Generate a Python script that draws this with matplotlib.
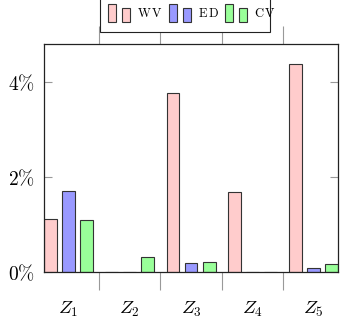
import matplotlib
matplotlib.use("Agg")
import matplotlib.pyplot as plt
from matplotlib.patches import Rectangle
import numpy as np

plt.rcParams["mathtext.fontset"] = "cm"

zones = [r"$Z_1$", r"$Z_2$", r"$Z_3$", r"$Z_4$", r"$Z_5$"]
series = ["W\\,V", "E\\,D", "C\\,V"]
wv = [1.11, 0.0, 3.77, 1.68, 4.38]
ed = [1.70, 0.0, 0.20, 0.0, 0.08]
cv = [1.09, 0.31, 0.22, 0.0, 0.17]
values = [wv, ed, cv]
colors = ["#ffcccc", "#9999ff", "#99ff99"]
edge = "#333333"

W, H = 346, 320
fig = plt.figure(figsize=(W / 100, H / 100), dpi=100)
ax = fig.add_axes([44 / W, 1 - 272 / H, (338 - 44) / W, (272 - 44) / H])

x = np.arange(len(zones))
bw = 0.212
step = 0.294
for i, (vals, col) in enumerate(zip(values, colors)):
    ax.bar(x + (i - 1) * step, vals, width=bw, color=col, edgecolor=edge, linewidth=0.8, zorder=2)

ax.set_xlim(-0.4, 4.4)
ax.set_ylim(0, 4.8)

ax.set_yticks([0, 2, 4])
ax.set_yticklabels([r"$0\%$", r"$2\%$", r"$4\%$"], fontsize=14)
ax.tick_params(axis="y", direction="in", length=6, color="#999999", left=True, right=True, pad=6.5)

ax.set_xticks(x)
ax.set_xticklabels(zones, fontsize=13.5)
ax.tick_params(axis="x", which="major", length=0, pad=20)
ax.set_xticks(x[:-1] + 0.5, minor=True)
ax.tick_params(axis="x", which="minor", direction="out", length=13, color="#999999",
               width=0.8, top=True, bottom=True)

for sp in ax.spines.values():
    sp.set_color("#222222")
    sp.set_linewidth(0.9)

# legend, drawn by hand in pixel coordinates (origin top-left)
def fx(px):
    return px / W

def fy(py):
    return 1 - py / H

box = Rectangle((fx(100), fy(32)), fx(270) - fx(100), fy(-10) - fy(32), transform=fig.transFigure,
                facecolor="white", edgecolor="#222222", linewidth=0.8, zorder=5)
fig.patches.append(box)

fig.canvas.draw()
renderer = fig.canvas.get_renderer()
cur = 108
for name, col in zip(series, colors):
    for dx, top in [(0, 4), (14, 8)]:
        r = Rectangle((fx(cur + dx), fy(21.5)), 8 / W, (21.5 - top) / H, transform=fig.transFigure,
                      facecolor=col, edgecolor=edge, linewidth=0.8, zorder=6)
        fig.patches.append(r)
    t = fig.text(fx(cur + 29), fy(13.5), r"$\mathrm{%s}$" % name, fontsize=9, ha="left", va="center",
                 zorder=7)
    bb = t.get_window_extent(renderer)
    cur = bb.x1 + 6

fig.savefig("out.png", dpi=100)
